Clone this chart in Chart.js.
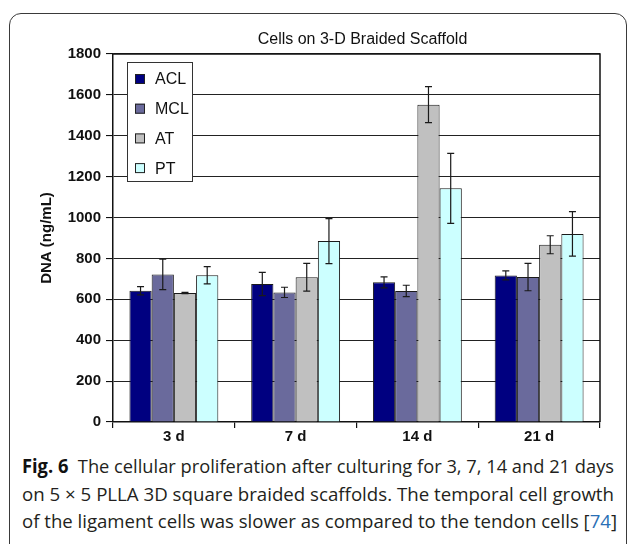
<!DOCTYPE html>
<html>
<head>
<meta charset="utf-8">
<script src="https://cdn.jsdelivr.net/npm/chart.js@4.4.1/dist/chart.umd.min.js"></script>
<style>
  html, body { margin: 0; padding: 0; background: #fff; }
  body { width: 630px; height: 544px; position: relative; overflow: hidden; }
  #frame { position: absolute; left: 9px; top: 13px; width: 618px; height: 545px;
           border: 1px solid #3a3a3a; border-radius: 12px; box-sizing: border-box; }
  #wrap { position: absolute; left: 0; top: 0; width: 630px; height: 450px; }
  #caption { position: absolute; left: 22px; top: 453px; font-family: "Open Sans", sans-serif;
             font-size: 19px; line-height: 27.5px; color: #231f20; }
  #caption .ln { white-space: nowrap; display: block; }
  #caption .ln span.in { display: inline-block; transform-origin: 0 50%; }
  #caption b { font-weight: 700; color: #111; }
  #caption .ref { color: #2a6fb5; }
</style>
</head>
<body>
<div id="frame"></div>
<div id="wrap"><canvas id="c" width="630" height="450"></canvas></div>
<div id="caption">
  <div class="ln" data-w="592"><span class="in"><b>Fig. 6</b>&nbsp; The cellular proliferation after culturing for 3, 7, 14 and 21 days</span></div>
  <div class="ln" data-w="592"><span class="in">on 5 × 5 PLLA 3D square braided scaffolds. The temporal cell growth</span></div>
  <div class="ln" data-w="595"><span class="in">of the ligament cells was slower as compared to the tendon cells [<span class="ref">74</span>]</span></div>
</div>
<script>
const categories = ['3 d', '7 d', '14 d', '21 d'];
const seriesNames = ['ACL', 'MCL', 'AT', 'PT'];
const aclValues = [642, 675, 683, 717];
const mclValues = [722, 634, 641, 709];
const atValues  = [631, 708, 1552, 867];
const ptValues  = [718, 885, 1143, 920];
const aclErrors = [20, 57, 27, 22];
const mclErrors = [75, 25, 28, 67];
const atErrors  = [3, 68, 88, 44];
const ptErrors  = [42, 110, 171, 109];
const yTicks = [0, 200, 400, 600, 800, 1000, 1200, 1400, 1600, 1800];
const chartTitle = 'Cells on 3-D Braided Scaffold';
const yTitle = 'DNA (ng/mL)';

const colors = ['#000080', '#6a6a9c', '#c0c0c0', '#ccffff'];
const valueSets = [aclValues, mclValues, atValues, ptValues];
const errorSets = [aclErrors, mclErrors, atErrors, ptErrors];

const FONT = '"Liberation Sans", Arial, sans-serif';

const datasets = seriesNames.map((name, i) => ({
  label: name,
  data: valueSets[i],
  errors: errorSets[i],
  backgroundColor: colors[i],
  borderColor: '#1a1a1a',
  borderWidth: 1,
  borderSkipped: 'bottom',
  categoryPercentage: 0.73,
  barPercentage: 1.0
}));

const errorBarPlugin = {
  id: 'errorBars',
  afterDatasetsDraw(chart) {
    const ctx = chart.ctx;
    const yScale = chart.scales.y;
    ctx.save();
    ctx.strokeStyle = '#1a1a1a';
    ctx.lineWidth = 1.2;
    chart.data.datasets.forEach((ds, di) => {
      const meta = chart.getDatasetMeta(di);
      meta.data.forEach((bar, j) => {
        const v = ds.data[j], e = ds.errors[j];
        const yt = yScale.getPixelForValue(v + e);
        const yb = yScale.getPixelForValue(v - e);
        const x = bar.x;
        const cap = 3.5;
        ctx.beginPath();
        ctx.moveTo(x, yt); ctx.lineTo(x, yb);
        ctx.moveTo(x - cap, yt); ctx.lineTo(x + cap, yt);
        ctx.moveTo(x - cap, yb); ctx.lineTo(x + cap, yb);
        ctx.stroke();
      });
    });
    ctx.restore();
  }
};

const decorPlugin = {
  id: 'decor',
  afterDraw(chart) {
    const ctx = chart.ctx;
    const a = chart.chartArea;
    ctx.save();
    ctx.strokeStyle = '#111';
    ctx.lineWidth = 1.5;
    ctx.beginPath();
    ctx.moveTo(a.left, a.top); ctx.lineTo(a.right, a.top); ctx.lineTo(a.right, a.bottom);
    ctx.stroke();
    ctx.fillStyle = '#111';
    ctx.font = '16px ' + FONT;
    ctx.textAlign = 'center';
    ctx.textBaseline = 'middle';
    ctx.fillText(chartTitle, (a.left + a.right) / 2 + 6, a.top - 14);
    const lx = a.left + 14, ly = a.top + 8, lw = 65, lh = 119;
    ctx.fillStyle = '#fff';
    ctx.fillRect(lx, ly, lw, lh);
    ctx.strokeStyle = '#333';
    ctx.lineWidth = 1;
    ctx.strokeRect(lx + 0.5, ly + 0.5, lw, lh);
    ctx.font = '16px ' + FONT;
    ctx.textAlign = 'left';
    ctx.textBaseline = 'middle';
    chart.data.datasets.forEach((ds, i) => {
      const cy = ly + 17 + i * 29.7;
      ctx.fillStyle = ds.backgroundColor;
      ctx.fillRect(lx + 8, cy - 5, 10, 10);
      ctx.strokeStyle = '#222';
      ctx.strokeRect(lx + 8.5, cy - 4.5, 9, 9);
      ctx.fillStyle = '#111';
      ctx.fillText(ds.label, lx + 28, cy + 1);
    });
    ctx.restore();
  }
};

new Chart(document.getElementById('c'), {
  type: 'bar',
  data: { labels: categories, datasets },
  options: {
    responsive: false,
    animation: false,
    layout: { padding: { left: 34, right: 30, top: 54, bottom: 0 } },
    plugins: { legend: { display: false }, title: { display: false }, tooltip: { enabled: false } },
    scales: {
      x: {
        grid: { display: true, drawOnChartArea: false, drawTicks: true, tickLength: 6, color: '#111', lineWidth: 1.2, offset: true },
        border: { display: true, color: '#111', width: 1.5 },
        ticks: { color: '#111', padding: 0, font: { family: FONT, size: 15, weight: 'bold' } },
        afterFit(s) { s.height = 28; }
      },
      y: {
        min: 0, max: 1800,
        afterBuildTicks(s) { s.ticks = yTicks.map(v => ({ value: v })); },
        grid: { color: '#222', lineWidth: 1.1, drawTicks: true, tickLength: 7, tickColor: '#111' },
        border: { display: true, color: '#111', width: 1.5 },
        ticks: { color: '#111', padding: 5, font: { family: FONT, size: 15, weight: 'bold' }, callback: v => String(v) },
        title: { display: true, text: yTitle, color: '#111', padding: { top: 4, bottom: 4 }, font: { family: FONT, size: 15, weight: 'bold' } },
        afterFit(s) { s.width = 79; }
      }
    }
  },
  plugins: [errorBarPlugin, decorPlugin]
});

document.querySelectorAll('#caption .ln').forEach(ln => {
  const inner = ln.querySelector('.in');
  const target = parseFloat(ln.dataset.w);
  const w = inner.getBoundingClientRect().width;
  if (w > 0) inner.style.transform = 'scaleX(' + (target / w) + ')';
});
</script>
</body>
</html>
